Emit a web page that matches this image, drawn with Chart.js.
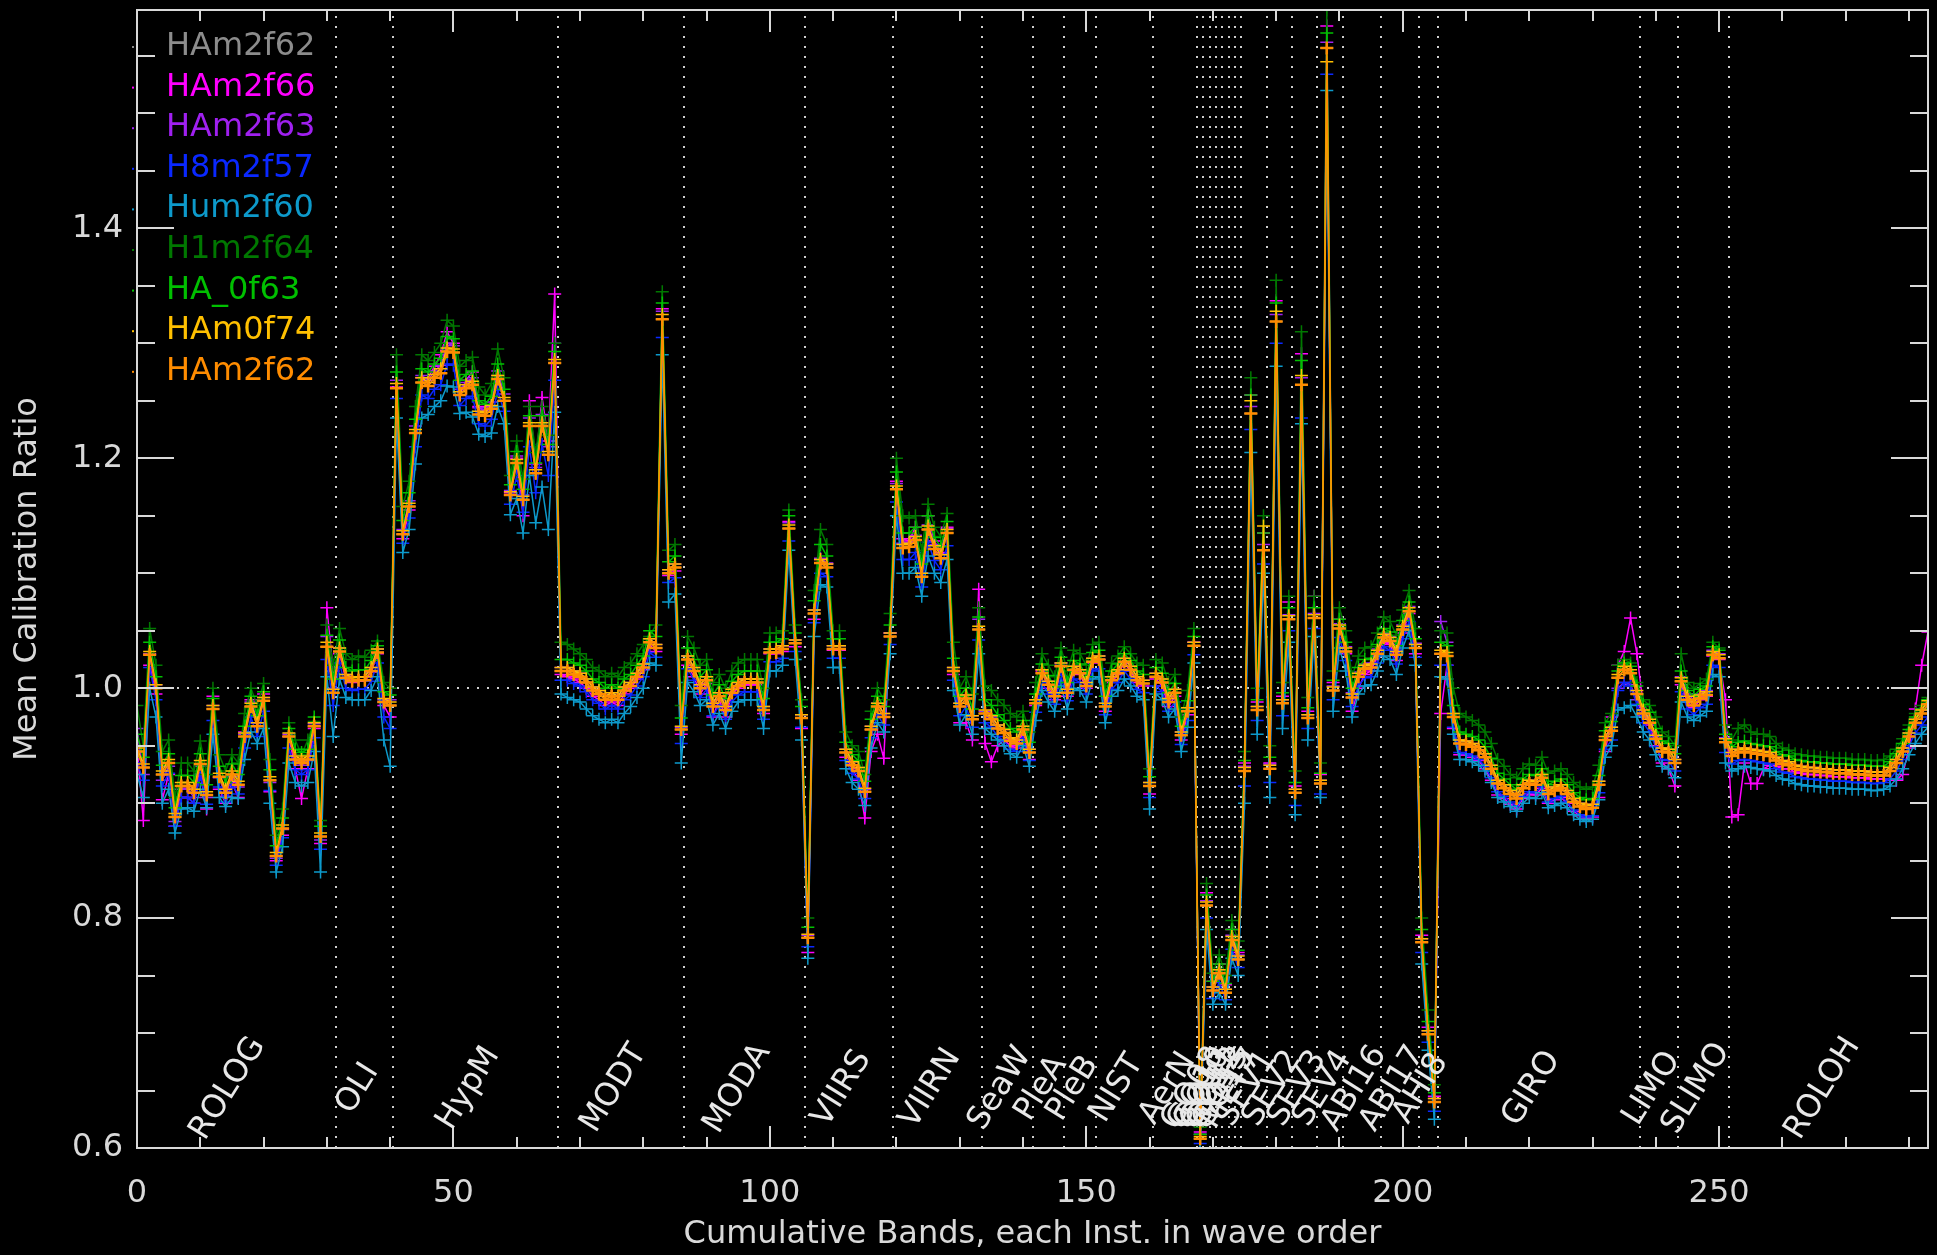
<!DOCTYPE html>
<html>
<head>
<meta charset="utf-8">
<script src="https://cdn.jsdelivr.net/npm/chart.js@4.4.1/dist/chart.umd.min.js"></script>
<style>
  html, body { margin: 0; padding: 0; background: #000; overflow: hidden; }
  #wrap { width: 1937px; height: 1255px; }
  canvas { display: block; }
</style>
</head>
<body>
<div id="wrap"><canvas id="calChart" width="1937" height="1255"></canvas></div>
<script>
// band positions along x (one point per band)
const bandIndex = Array.from({ length: 284 }, (_, i) => i);

// HAm2f62 (orange, also the grey one underneath)
const ham2f62 = [
  0.945,0.931,1.029,1.000,0.925,0.935,0.888,0.915,0.915,0.909,
  0.934,0.907,0.982,0.923,0.909,0.925,0.916,0.958,0.984,0.967,
  0.989,0.920,0.854,0.878,0.958,0.938,0.935,0.938,0.967,0.871,
  1.036,0.996,1.032,1.009,1.006,1.007,1.007,1.015,1.031,0.988,
  0.985,1.261,1.134,1.158,1.222,1.266,1.263,1.270,1.274,1.293,
  1.292,1.255,1.261,1.264,1.238,1.237,1.243,1.269,1.250,1.168,
  1.196,1.164,1.228,1.187,1.228,1.203,1.283,1.015,1.015,1.012,
  1.010,1.005,0.998,0.995,0.990,0.993,0.990,0.998,1.002,1.010,
  1.018,1.040,1.035,1.321,1.100,1.105,0.964,1.025,1.015,1.000,
  1.007,0.984,0.993,0.981,0.996,1.002,1.005,1.005,1.005,0.981,
  1.031,1.031,1.034,1.139,1.039,0.974,0.783,1.065,1.109,1.105,
  1.034,1.034,0.944,0.933,0.928,0.910,0.964,0.984,0.975,1.045,
  1.173,1.122,1.123,1.129,1.097,1.138,1.121,1.113,1.135,1.015,
  0.984,0.991,0.973,1.051,0.978,0.973,0.965,0.961,0.954,0.952,
  0.964,0.944,0.987,1.013,1.003,0.993,1.019,0.996,1.016,1.013,
  1.002,1.023,1.025,0.984,1.007,1.013,1.023,1.016,1.007,1.004,
  0.915,1.010,1.005,0.988,0.996,0.959,0.980,1.037,0.608,0.811,
  0.737,0.752,0.735,0.781,0.764,0.928,1.239,0.981,1.120,0.930,
  1.319,0.987,1.060,0.909,1.264,0.974,1.061,0.917,1.557,0.998,
  1.052,1.032,0.992,1.010,1.017,1.018,1.030,1.044,1.041,1.029,
  1.051,1.067,1.035,0.779,0.699,0.640,1.030,1.028,0.975,0.952,
  0.951,0.949,0.946,0.940,0.930,0.917,0.913,0.908,0.904,0.913,
  0.917,0.916,0.922,0.908,0.911,0.913,0.908,0.901,0.897,0.895,
  0.896,0.916,0.955,0.963,1.009,1.016,1.013,0.995,0.978,0.970,
  0.956,0.945,0.944,0.935,1.006,0.990,0.985,0.991,0.994,1.029,
  1.026,0.953,0.941,0.944,0.945,0.944,0.943,0.942,0.941,0.937,
  0.934,0.933,0.930,0.929,0.928,0.928,0.927,0.927,0.926,0.926,
  0.926,0.925,0.925,0.925,0.924,0.924,0.924,0.928,0.935,0.945,
  0.958,0.970,0.978,0.986
];

// HAm2f66 (magenta)
const ham2f66 = [
  0.950,0.885,1.020,0.995,0.903,0.925,0.880,0.905,0.905,0.900,
  0.925,0.895,0.993,0.912,0.900,0.918,0.905,0.962,0.990,0.970,
  0.995,0.910,0.850,0.872,0.958,0.930,0.904,0.930,0.965,0.865,
  1.070,1.015,1.030,1.008,1.005,1.006,1.006,1.014,1.030,0.985,
  0.975,1.262,1.130,1.155,1.222,1.270,1.270,1.280,1.290,1.310,
  1.300,1.255,1.268,1.275,1.245,1.240,1.245,1.272,1.250,1.170,
  1.200,1.150,1.250,1.195,1.253,1.215,1.343,1.012,1.010,1.008,
  1.005,1.000,0.993,0.990,0.985,0.988,0.985,0.995,1.000,1.008,
  1.016,1.038,1.032,1.330,1.098,1.102,0.960,1.020,1.010,0.995,
  1.004,0.975,0.990,0.975,0.995,1.000,1.003,1.003,1.003,0.978,
  1.030,1.030,1.032,1.145,1.036,0.965,0.770,1.060,1.112,1.108,
  1.033,1.033,0.940,0.930,0.920,0.887,0.945,0.960,0.939,1.048,
  1.180,1.130,1.128,1.140,1.100,1.150,1.128,1.118,1.140,1.012,
  0.970,0.970,0.955,1.086,0.952,0.936,0.950,0.955,0.950,0.948,
  0.962,0.938,0.985,1.015,1.000,0.990,1.020,0.993,1.015,1.012,
  1.000,1.022,1.025,0.980,1.005,1.012,1.022,1.015,1.005,1.002,
  0.908,1.008,1.002,0.984,0.993,0.955,0.977,1.040,0.614,0.822,
  0.745,0.760,0.742,0.790,0.770,0.935,1.255,0.988,1.135,0.935,
  1.337,0.993,1.075,0.915,1.291,0.980,1.080,0.925,1.576,1.005,
  1.060,1.030,0.980,1.000,1.012,1.015,1.028,1.040,1.038,1.024,
  1.048,1.065,1.030,0.785,0.705,0.645,0.978,1.020,0.965,0.942,
  0.942,0.940,0.937,0.930,0.920,0.907,0.904,0.899,0.895,0.904,
  0.908,0.907,0.913,0.900,0.903,0.905,0.900,0.893,0.889,0.887,
  0.888,0.905,0.945,0.975,1.020,1.032,1.061,1.030,0.985,0.968,
  0.950,0.935,0.930,0.915,1.003,0.988,0.983,0.990,0.993,1.028,
  1.025,0.990,0.888,0.890,0.935,0.917,0.917,0.930,0.933,0.932,
  0.930,0.930,0.927,0.926,0.925,0.925,0.924,0.924,0.923,0.923,
  0.923,0.922,0.922,0.922,0.921,0.921,0.921,0.920,0.920,0.925,
  0.948,0.982,1.020,1.049
];

// HAm2f63 (purple)
const ham2f63 = [
  0.965,0.925,1.030,1.003,0.920,0.932,0.884,0.912,0.913,0.905,
  0.932,0.905,0.985,0.922,0.906,0.923,0.914,0.960,0.988,0.970,
  0.992,0.918,0.852,0.877,0.960,0.937,0.933,0.937,0.969,0.868,
  1.045,1.000,1.035,1.012,1.010,1.010,1.010,1.018,1.034,0.990,
  0.990,1.268,1.138,1.163,1.228,1.272,1.268,1.276,1.281,1.300,
  1.298,1.260,1.266,1.270,1.244,1.242,1.249,1.276,1.256,1.172,
  1.202,1.168,1.235,1.192,1.238,1.210,1.300,1.018,1.018,1.015,
  1.013,1.008,1.001,0.998,0.993,0.996,0.993,1.001,1.005,1.013,
  1.021,1.043,1.038,1.328,1.103,1.108,0.966,1.028,1.018,1.003,
  1.010,0.987,0.996,0.984,0.999,1.005,1.008,1.008,1.008,0.984,
  1.034,1.034,1.037,1.144,1.042,0.977,0.785,1.068,1.113,1.109,
  1.037,1.037,0.947,0.936,0.931,0.912,0.967,0.987,0.978,1.048,
  1.178,1.126,1.127,1.133,1.100,1.142,1.125,1.117,1.139,1.018,
  0.987,0.994,0.976,1.060,0.980,0.975,0.968,0.964,0.957,0.955,
  0.967,0.947,0.990,1.016,1.006,0.996,1.022,0.999,1.019,1.016,
  1.005,1.026,1.028,0.987,1.010,1.016,1.026,1.019,1.010,1.007,
  0.918,1.013,1.008,0.991,0.999,0.962,0.983,1.040,0.612,0.815,
  0.740,0.755,0.738,0.785,0.768,0.932,1.245,0.984,1.125,0.934,
  1.325,0.990,1.064,0.912,1.270,0.977,1.065,0.920,1.562,1.002,
  1.056,1.036,0.996,1.014,1.021,1.022,1.034,1.048,1.045,1.033,
  1.055,1.071,1.039,0.782,0.702,0.643,1.058,1.040,0.978,0.955,
  0.954,0.952,0.949,0.943,0.933,0.920,0.916,0.911,0.907,0.916,
  0.920,0.919,0.925,0.911,0.914,0.916,0.911,0.904,0.900,0.898,
  0.899,0.919,0.958,0.966,1.000,1.005,1.003,0.990,0.976,0.970,
  0.958,0.948,0.947,0.938,1.010,0.995,0.990,0.995,0.998,1.033,
  1.030,0.957,0.944,0.947,0.948,0.947,0.946,0.945,0.944,0.940,
  0.937,0.936,0.933,0.932,0.931,0.931,0.930,0.930,0.929,0.929,
  0.929,0.928,0.928,0.928,0.927,0.927,0.927,0.931,0.938,0.948,
  0.961,0.973,0.981,0.990
];

// H8m2f57 (blue)
const h8m2f57 = [
  0.935,0.920,1.018,0.990,0.915,0.926,0.880,0.905,0.905,0.900,
  0.925,0.899,0.972,0.914,0.901,0.916,0.908,0.948,0.975,0.958,
  0.980,0.911,0.846,0.870,0.948,0.929,0.925,0.929,0.957,0.860,
  1.025,0.985,1.022,1.000,0.998,0.999,0.999,1.006,1.022,0.975,
  0.965,1.252,1.126,1.148,1.210,1.255,1.252,1.260,1.264,1.282,
  1.281,1.246,1.252,1.254,1.230,1.228,1.234,1.259,1.241,1.160,
  1.185,1.153,1.210,1.170,1.212,1.185,1.268,1.007,1.007,1.004,
  1.002,0.997,0.990,0.987,0.982,0.985,0.982,0.990,0.994,1.002,
  1.010,1.031,1.027,1.305,1.092,1.096,0.952,1.017,1.007,0.992,
  0.999,0.976,0.985,0.973,0.988,0.994,0.997,0.997,0.997,0.973,
  1.023,1.023,1.026,1.128,1.032,0.966,0.775,1.057,1.100,1.097,
  1.026,1.026,0.937,0.926,0.921,0.904,0.957,0.977,0.968,1.038,
  1.162,1.112,1.112,1.118,1.088,1.127,1.111,1.103,1.124,1.007,
  0.976,0.984,0.966,1.042,0.970,0.966,0.958,0.954,0.947,0.945,
  0.956,0.937,0.979,1.005,0.995,0.986,1.011,0.989,1.008,1.005,
  0.995,1.015,1.017,0.977,0.999,1.005,1.015,1.008,0.999,0.996,
  0.905,1.002,0.997,0.980,0.988,0.951,0.972,1.029,0.604,0.800,
  0.730,0.744,0.729,0.773,0.757,0.915,1.225,0.972,1.108,0.918,
  1.300,0.976,1.050,0.898,1.235,0.965,1.052,0.908,1.534,0.990,
  1.044,1.024,0.984,1.002,1.009,1.010,1.022,1.036,1.033,1.021,
  1.043,1.058,1.027,0.770,0.692,0.632,1.020,1.020,0.966,0.944,
  0.943,0.941,0.938,0.932,0.922,0.910,0.906,0.901,0.897,0.906,
  0.910,0.909,0.915,0.901,0.904,0.906,0.901,0.894,0.890,0.888,
  0.889,0.909,0.947,0.955,0.998,1.005,1.002,0.986,0.970,0.962,
  0.949,0.938,0.937,0.928,0.997,0.982,0.977,0.983,0.986,1.020,
  1.018,0.944,0.934,0.937,0.938,0.937,0.936,0.935,0.934,0.930,
  0.927,0.926,0.923,0.922,0.921,0.921,0.920,0.920,0.919,0.919,
  0.919,0.918,0.918,0.918,0.917,0.917,0.918,0.921,0.928,0.938,
  0.950,0.961,0.968,0.975
];

// Hum2f60 (teal)
const hum2f60 = [
  0.925,0.905,1.000,0.975,0.900,0.912,0.874,0.895,0.896,0.893,
  0.912,0.896,0.960,0.905,0.897,0.905,0.904,0.938,0.962,0.952,
  0.965,0.900,0.840,0.862,0.935,0.918,0.915,0.918,0.945,0.840,
  1.010,0.958,1.008,0.992,0.990,0.990,0.990,0.998,1.010,0.955,
  0.932,1.235,1.118,1.138,1.195,1.235,1.238,1.245,1.250,1.263,
  1.262,1.239,1.240,1.236,1.221,1.219,1.222,1.245,1.230,1.151,
  1.165,1.135,1.185,1.144,1.175,1.138,1.240,0.995,0.992,0.990,
  0.988,0.982,0.976,0.973,0.970,0.973,0.970,0.978,0.984,0.992,
  1.000,1.022,1.020,1.290,1.075,1.082,0.935,1.005,0.997,0.985,
  0.990,0.968,0.978,0.965,0.980,0.988,0.990,0.990,0.990,0.965,
  1.015,1.015,1.020,1.120,1.025,0.955,0.765,1.045,1.090,1.088,
  1.018,1.018,0.930,0.918,0.912,0.898,0.948,0.970,0.962,1.030,
  1.150,1.100,1.100,1.105,1.080,1.115,1.100,1.092,1.112,0.998,
  0.968,0.977,0.960,1.030,0.965,0.960,0.955,0.950,0.943,0.940,
  0.950,0.932,0.972,0.998,0.988,0.980,1.002,0.982,1.000,0.998,
  0.988,1.008,1.010,0.970,0.993,0.998,1.008,1.002,0.993,0.990,
  0.895,0.995,0.990,0.975,0.982,0.945,0.966,1.022,0.600,0.790,
  0.725,0.735,0.725,0.765,0.750,0.900,1.205,0.960,1.100,0.905,
  1.280,0.965,1.040,0.890,1.230,0.955,1.045,0.905,1.520,0.980,
  1.035,1.015,0.975,0.995,1.002,1.003,1.015,1.028,1.025,1.012,
  1.035,1.050,1.020,0.760,0.685,0.625,1.010,1.008,0.960,0.938,
  0.938,0.936,0.933,0.928,0.918,0.905,0.901,0.897,0.893,0.900,
  0.905,0.904,0.909,0.896,0.898,0.900,0.896,0.890,0.886,0.884,
  0.886,0.903,0.940,0.950,0.981,0.983,0.985,0.975,0.962,0.955,
  0.942,0.932,0.930,0.922,0.988,0.975,0.972,0.976,0.980,1.012,
  1.010,0.935,0.928,0.930,0.932,0.931,0.930,0.929,0.928,0.924,
  0.921,0.920,0.917,0.916,0.915,0.915,0.914,0.914,0.913,0.913,
  0.913,0.912,0.912,0.912,0.911,0.911,0.912,0.915,0.921,0.930,
  0.942,0.952,0.960,0.966
];

// H1m2f64 (dark green)
const h1m2f64 = [
  0.985,0.950,1.052,1.020,0.945,0.955,0.905,0.935,0.935,0.928,
  0.954,0.925,1.000,0.942,0.928,0.942,0.935,0.978,1.000,0.985,
  1.004,0.938,0.872,0.895,0.970,0.955,0.942,0.955,0.971,0.885,
  1.055,1.020,1.052,1.030,1.025,1.028,1.027,1.033,1.041,1.005,
  1.000,1.290,1.158,1.180,1.245,1.290,1.285,1.292,1.300,1.320,
  1.315,1.280,1.285,1.288,1.262,1.255,1.265,1.295,1.270,1.185,
  1.215,1.182,1.245,1.205,1.245,1.220,1.300,1.040,1.038,1.034,
  1.030,1.025,1.018,1.015,1.010,1.013,1.010,1.018,1.022,1.030,
  1.038,1.045,1.055,1.345,1.120,1.125,0.985,1.045,1.035,1.020,
  1.025,1.005,1.012,1.000,1.015,1.022,1.025,1.025,1.025,1.000,
  1.048,1.048,1.050,1.155,1.055,0.990,0.800,1.085,1.138,1.125,
  1.050,1.050,0.962,0.950,0.945,0.925,0.980,1.000,0.990,1.065,
  1.200,1.150,1.148,1.150,1.120,1.160,1.140,1.132,1.152,1.040,
  1.000,1.010,0.995,1.070,1.002,0.998,0.990,0.985,0.978,0.975,
  0.980,0.962,1.005,1.030,1.020,1.010,1.035,1.015,1.033,1.030,
  1.020,1.038,1.040,1.002,1.022,1.028,1.036,1.030,1.022,1.020,
  0.930,1.025,1.022,1.005,1.012,0.975,0.998,1.052,0.618,0.830,
  0.752,0.768,0.750,0.798,0.780,0.945,1.270,1.000,1.150,0.950,
  1.355,1.005,1.080,0.928,1.310,0.992,1.080,0.935,1.590,1.015,
  1.070,1.050,1.010,1.028,1.035,1.036,1.048,1.062,1.058,1.046,
  1.068,1.085,1.052,0.800,0.720,0.655,1.050,1.048,1.000,0.978,
  0.975,0.972,0.968,0.962,0.952,0.938,0.932,0.925,0.922,0.930,
  0.934,0.933,0.940,0.926,0.928,0.930,0.925,0.918,0.914,0.912,
  0.914,0.933,0.970,0.978,1.020,1.025,1.022,1.005,0.990,0.985,
  0.975,0.962,0.958,0.950,1.030,1.005,1.000,1.004,1.008,1.040,
  1.035,0.968,0.955,0.965,0.968,0.962,0.960,0.960,0.958,0.952,
  0.948,0.946,0.943,0.942,0.941,0.941,0.940,0.940,0.939,0.939,
  0.939,0.938,0.938,0.938,0.937,0.937,0.938,0.941,0.947,0.956,
  0.968,0.978,0.985,0.992
];

// HA_0f63 (green)
const ha0f63 = [
  0.960,0.940,1.040,1.010,0.933,0.943,0.896,0.924,0.924,0.918,
  0.943,0.916,0.991,0.932,0.918,0.934,0.925,0.967,0.993,0.976,
  0.997,0.929,0.863,0.887,0.965,0.947,0.944,0.947,0.975,0.880,
  1.046,1.008,1.042,1.018,1.015,1.016,1.016,1.024,1.037,0.997,
  0.994,1.275,1.146,1.170,1.234,1.278,1.275,1.282,1.287,1.306,
  1.304,1.268,1.273,1.276,1.250,1.247,1.254,1.282,1.260,1.177,
  1.206,1.173,1.237,1.196,1.237,1.212,1.293,1.025,1.025,1.022,
  1.020,1.015,1.008,1.005,1.000,1.003,1.000,1.008,1.012,1.020,
  1.028,1.050,1.045,1.335,1.110,1.115,0.974,1.035,1.025,1.010,
  1.016,0.994,1.003,0.991,1.006,1.012,1.015,1.015,1.015,0.991,
  1.040,1.040,1.043,1.150,1.048,0.984,0.792,1.076,1.125,1.115,
  1.043,1.043,0.953,0.942,0.937,0.919,0.973,0.993,0.984,1.055,
  1.188,1.135,1.135,1.140,1.108,1.150,1.131,1.123,1.145,1.026,
  0.993,1.000,0.982,1.062,0.990,0.985,0.977,0.972,0.965,0.962,
  0.972,0.953,0.995,1.021,1.011,1.001,1.027,1.005,1.024,1.021,
  1.010,1.031,1.033,0.993,1.015,1.021,1.030,1.024,1.015,1.012,
  0.923,1.018,1.013,0.996,1.004,0.967,0.989,1.045,0.612,0.820,
  0.745,0.760,0.743,0.790,0.772,0.937,1.255,0.990,1.135,0.940,
  1.335,0.996,1.070,0.918,1.285,0.983,1.070,0.926,1.570,1.007,
  1.060,1.040,1.000,1.018,1.025,1.026,1.038,1.052,1.049,1.037,
  1.059,1.075,1.043,0.790,0.710,0.648,1.040,1.037,0.985,0.962,
  0.960,0.958,0.955,0.949,0.939,0.926,0.921,0.916,0.912,0.921,
  0.925,0.924,0.930,0.916,0.919,0.921,0.916,0.909,0.905,0.903,
  0.904,0.924,0.963,0.971,1.015,1.022,1.019,1.002,0.986,0.979,
  0.965,0.954,0.952,0.943,1.015,0.998,0.993,0.999,1.002,1.036,
  1.033,0.960,0.949,0.953,0.954,0.952,0.951,0.950,0.949,0.945,
  0.942,0.941,0.938,0.937,0.936,0.936,0.935,0.935,0.934,0.934,
  0.934,0.933,0.933,0.933,0.932,0.932,0.932,0.936,0.943,0.952,
  0.964,0.975,0.982,0.990
];

// HAm0f74 (gold)
const ham0f74 = [
  0.948,0.934,1.032,1.003,0.928,0.938,0.891,0.918,0.918,0.912,
  0.937,0.910,0.985,0.926,0.912,0.928,0.919,0.961,0.987,0.970,
  0.992,0.923,0.857,0.881,0.961,0.941,0.938,0.941,0.970,0.874,
  1.040,0.999,1.035,1.012,1.009,1.010,1.010,1.018,1.034,0.991,
  0.988,1.265,1.137,1.161,1.225,1.270,1.266,1.273,1.278,1.296,
  1.295,1.258,1.264,1.267,1.241,1.240,1.246,1.272,1.253,1.171,
  1.199,1.167,1.231,1.190,1.231,1.206,1.286,1.018,1.018,1.015,
  1.013,1.008,1.001,0.998,0.993,0.996,0.993,1.001,1.005,1.013,
  1.021,1.043,1.038,1.325,1.103,1.108,0.967,1.028,1.018,1.003,
  1.010,0.987,0.996,0.984,0.999,1.005,1.008,1.008,1.008,0.984,
  1.034,1.034,1.037,1.142,1.042,0.977,0.786,1.068,1.112,1.108,
  1.037,1.037,0.947,0.936,0.931,0.913,0.967,0.987,0.978,1.048,
  1.176,1.125,1.126,1.132,1.100,1.141,1.124,1.116,1.138,1.018,
  0.987,0.994,0.976,1.054,0.981,0.976,0.968,0.964,0.957,0.955,
  0.967,0.947,0.990,1.016,1.006,0.996,1.022,0.999,1.019,1.016,
  1.005,1.026,1.028,0.987,1.010,1.016,1.026,1.019,1.010,1.007,
  0.918,1.013,1.008,0.991,0.999,0.962,0.983,1.040,0.610,0.814,
  0.740,0.755,0.738,0.784,0.767,0.931,1.250,0.984,1.141,0.933,
  1.328,0.990,1.063,0.912,1.272,0.977,1.064,0.920,1.545,1.001,
  1.055,1.035,0.995,1.013,1.020,1.021,1.033,1.047,1.044,1.032,
  1.054,1.070,1.038,0.782,0.702,0.643,1.033,1.031,0.978,0.955,
  0.954,0.952,0.949,0.943,0.933,0.920,0.916,0.911,0.907,0.916,
  0.920,0.919,0.925,0.911,0.914,0.916,0.911,0.904,0.900,0.898,
  0.899,0.919,0.958,0.966,1.012,1.019,1.016,0.998,0.981,0.973,
  0.959,0.948,0.947,0.938,1.009,0.993,0.988,0.994,0.997,1.032,
  1.029,0.956,0.944,0.947,0.948,0.947,0.946,0.945,0.944,0.940,
  0.937,0.936,0.933,0.932,0.931,0.931,0.930,0.930,0.929,0.929,
  0.929,0.928,0.928,0.928,0.927,0.927,0.927,0.931,0.938,0.948,
  0.961,0.973,0.981,0.989
];

const seriesNames  = ['HAm2f62', 'HAm2f66', 'HAm2f63', 'H8m2f57', 'Hum2f60', 'H1m2f64', 'HA_0f63', 'HAm0f74', 'HAm2f62'];
const seriesData   = [ham2f62, ham2f66, ham2f63, h8m2f57, hum2f60, h1m2f64, ha0f63, ham0f74, ham2f62];
const seriesColors = ['#8c8c8c', '#ff00ff', '#a020f0', '#0a28ff', '#0d9acb', '#007800', '#00c000', '#ffc000', '#ff8c00'];

// instruments, first and last band of each
const instNames = ['ROLOG', 'OLI', 'HypM', 'MODT', 'MODA', 'VIIRS', 'VIIRN', 'SeaW', 'PleA', 'PleB', 'NIST', 'AerN',
  'GO08', 'GO10', 'GO11', 'GO12', 'GO13', 'GO15', 'MET7', 'SEV1', 'SEV2', 'SEV3', 'SEV4',
  'ABI16', 'ABI17', 'AHI8', 'GIRO', 'LIMO', 'SLIMO', 'ROLOH'];
const instFirst = [0, 32, 41, 67, 87, 106, 120, 134, 142, 147, 152, 161, 168, 169, 170, 171, 172, 173, 174,
  175, 179, 183, 187, 191, 197, 203, 206, 238, 244, 252];
const instLast = [31, 40, 66, 86, 105, 119, 133, 141, 146, 151, 160, 167, 168, 169, 170, 171, 172, 173, 174,
  178, 182, 186, 190, 196, 202, 205, 237, 243, 251, 283];

const xTicks = [0, 50, 100, 150, 200, 250];
const yTicks = [0.6, 0.8, 1.0, 1.2, 1.4];

const txtColor = '#d9d9d9';
const fontFamily = '"DejaVu Sans", sans-serif';

// frame, inward ticks, dotted guides, instrument names and the legend
const overlay = {
  id: 'overlay',
  beforeDatasetsDraw(chart) {
    const { ctx, chartArea: a, scales: { x, y } } = chart;
    ctx.save();
    ctx.strokeStyle = '#cfcfcf';
    ctx.lineWidth = 2;
    ctx.setLineDash([2, 8]);
    instLast.slice(0, -1).forEach(e => {
      const px = Math.round(x.getPixelForValue(e + 0.5));
      ctx.beginPath();
      ctx.moveTo(px, a.bottom);
      ctx.lineTo(px, a.top);
      ctx.stroke();
    });
    const py = Math.round(y.getPixelForValue(1.0));
    ctx.beginPath();
    ctx.moveTo(a.left, py);
    ctx.lineTo(a.right, py);
    ctx.stroke();
    ctx.restore();
  },
  afterDatasetsDraw(chart) {
    const { ctx, chartArea: a, scales: { x, y } } = chart;
    ctx.save();
    ctx.strokeStyle = txtColor;
    ctx.lineWidth = 2;
    ctx.strokeRect(a.left, a.top, a.right - a.left, a.bottom - a.top);

    // x ticks, every 10 with long ones every 50
    for (let v = 10; v < 283; v += 10) {
      const px = Math.round(x.getPixelForValue(v));
      const len = v % 50 === 0 ? 22 : 11;
      ctx.beginPath();
      ctx.moveTo(px, a.bottom); ctx.lineTo(px, a.bottom - len);
      ctx.moveTo(px, a.top); ctx.lineTo(px, a.top + len);
      ctx.stroke();
    }
    // y ticks, every 0.05 with long ones every 0.2
    for (let k = 13; k <= 31; k++) {
      const v = k * 0.05;
      const py = Math.round(y.getPixelForValue(v));
      const len = k % 4 === 0 ? 37 : 18;
      ctx.beginPath();
      ctx.moveTo(a.left, py); ctx.lineTo(a.left + len, py);
      ctx.moveTo(a.right, py); ctx.lineTo(a.right - len, py);
      ctx.stroke();
    }

    // instrument names, rotated along the bottom
    ctx.fillStyle = '#e8e8e8';
    ctx.font = '32px ' + fontFamily;
    ctx.textAlign = 'center';
    ctx.textBaseline = 'alphabetic';
    instNames.forEach((name, i) => {
      const cx = x.getPixelForValue((instFirst[i] + instLast[i]) / 2);
      ctx.save();
      ctx.translate(cx, a.bottom - 55);
      ctx.rotate(-58 * Math.PI / 180);
      ctx.fillText(name, 0, 0);
      ctx.restore();
    });

    // legend, coloured names top left
    ctx.textAlign = 'left';
    seriesNames.forEach((name, i) => {
      const by = 55 + i * 40.6;
      ctx.fillStyle = seriesColors[i];
      ctx.fillText(name, 166, by);
      ctx.fillRect(132, by - 9, 2, 2);
    });
    ctx.restore();
  }
};

const datasets = seriesNames.map((name, i) => ({
  label: name,
  data: seriesData[i],
  borderColor: seriesColors[i],
  backgroundColor: seriesColors[i],
  borderWidth: 1.5,
  pointStyle: 'cross',
  pointRadius: 6.5,
  pointBorderWidth: i === 8 ? 2.5 : 1.5,
  pointHoverRadius: 6.5,
  tension: 0,
  order: seriesNames.length - 1 - i
}));

new Chart(document.getElementById('calChart'), {
  type: 'line',
  data: { labels: bandIndex, datasets: datasets },
  options: {
    responsive: false,
    animation: false,
    devicePixelRatio: 1,
    layout: { padding: { top: 10, right: 2, left: 0, bottom: 0 } },
    plugins: {
      legend: { display: false },
      tooltip: { enabled: false }
    },
    scales: {
      x: {
        type: 'linear',
        min: 0,
        max: 283,
        afterFit: s => {
          s.height = 107;
          s.paddingLeft = 0; s.paddingRight = 0; s.paddingTop = 0; s.paddingBottom = 0;
        },
        afterBuildTicks: s => { s.ticks = xTicks.map(v => ({ value: v })); },
        grid: { display: false, drawTicks: false },
        border: { display: false },
        ticks: { color: txtColor, font: { family: fontFamily, size: 32 }, padding: 26, maxRotation: 0, autoSkip: false },
        title: {
          display: true,
          text: 'Cumulative Bands, each Inst. in wave order',
          color: txtColor,
          font: { family: fontFamily, size: 32 },
          padding: { top: 0, bottom: 1 }
        }
      },
      y: {
        min: 0.6,
        max: 1.59,
        afterFit: s => {
          s.width = 137;
          s.paddingLeft = 0; s.paddingRight = 0; s.paddingTop = 0; s.paddingBottom = 0;
        },
        afterBuildTicks: s => { s.ticks = yTicks.map(v => ({ value: v })); },
        grid: { display: false, drawTicks: false },
        border: { display: false },
        ticks: {
          color: txtColor,
          font: { family: fontFamily, size: 32 },
          padding: 14,
          callback: v => v.toFixed(1)
        },
        title: {
          display: true,
          text: 'Mean Calibration Ratio',
          color: txtColor,
          font: { family: fontFamily, size: 32 },
          padding: { top: 8, bottom: 0 }
        }
      }
    }
  },
  plugins: [overlay]
});
</script>
</body>
</html>
